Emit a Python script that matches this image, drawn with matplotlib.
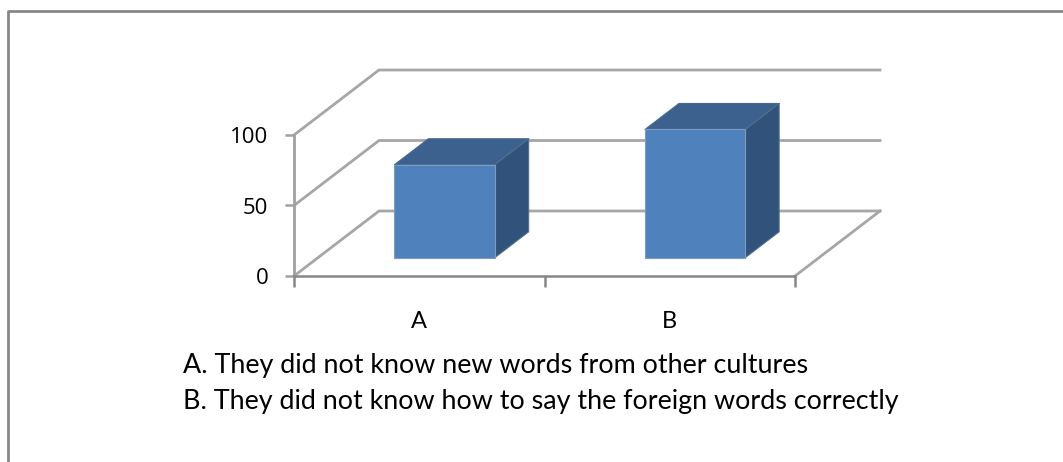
import matplotlib
matplotlib.use("Agg")
import matplotlib.pyplot as plt
from matplotlib.patches import Polygon

categories = ["A", "B"]
values = [66, 91]
y_ticks = [0, 50, 100]
notes = ["A. They did not know new words from other cultures",
         "B. They did not know how to say the foreign words correctly"]

W, H = 1063, 462
plt.rcParams['font.family'] = ['Lato', 'DejaVu Sans']
fig = plt.figure(figsize=(W / 100, H / 100), dpi=100)
fig.patch.set_facecolor('white')

# frame
GREY = '#878787'
LIGHT = '#a0a0a0'
fig.add_artist(plt.Line2D([7.5 / W, 7.5 / W, 1], [0, 1 - 10.5 / H, 1 - 10.5 / H],
                          color=GREY, lw=2.0, transform=fig.transFigure))

# front plane of the 3-D plot
ax = fig.add_axes([294 / W, 1 - 276 / H, (795 - 294) / W, (276 - 135) / H])
ax.set_xlim(0, len(categories))
ax.set_ylim(0, 100)
ax.patch.set_visible(False)
for s in ('top', 'right'):
    ax.spines[s].set_visible(False)
ax.spines['left'].set_color(LIGHT)
ax.spines['left'].set_linewidth(2.0)
ax.spines['bottom'].set_color(GREY)
ax.spines['bottom'].set_linewidth(1.8)
ax.set_xticks(range(len(categories) + 1))
ax.set_xticklabels([])
ax.set_yticks(y_ticks)
ax.set_yticklabels([str(v) for v in y_ticks], fontsize=16, color='black', family='Open Sans')
ax.tick_params(axis='y', direction='out', length=6.5, width=1.8, color=LIGHT, pad=12)
ax.tick_params(axis='x', direction='out', length=8, width=1.8, color=GREY)

# oblique depth in data units per unit of depth
DX = 85 / ((795 - 294) / len(categories))
DY = 65 / ((276 - 135) / 100)

def proj(x, y, d):
    return (x + DX * d, y + DY * d)

# walls
wall = dict(color='#a6a6a6', lw=2.0, clip_on=False, zorder=1)
for v in y_ticks:
    x0, y0 = proj(0, v, 1)
    x1, y1 = proj(len(categories), v, 1)
    ax.plot([0, x0, x1], [v, y0, y1], **wall)
x0, y0 = proj(len(categories), 0, 1)
ax.plot([len(categories), x0], [0, y0], **wall)

# bars
bw = 0.4
d0, d1 = 0.28, 0.68
for i, (c, v) in enumerate(zip(categories, values)):
    l = i + 0.5 - bw / 2 + DX * d0 + 0.006
    r = l + bw
    base = DY * d0
    top = base + v
    ddx, ddy = DX * (d1 - d0), DY * (d1 - d0)
    kw = dict(clip_on=False, zorder=3, lw=0.8, joinstyle='round')
    ax.add_patch(Polygon([(l, top), (r, top), (r + ddx, top + ddy), (l + ddx, top + ddy)],
                         fc='#3c618f', ec='#46698f', **kw))
    ax.add_patch(Polygon([(r, base), (r + ddx, base + ddy), (r + ddx, top + ddy), (r, top)],
                         fc='#31537b', ec='#52708f', **kw))
    ax.add_patch(Polygon([(l, base), (r, base), (r, top), (l, top)],
                         fc='#4f81bd', ec='#7f9cc0', **kw))
    ax.annotate(c, xy=(i + 0.5, 0), xycoords=('data', 'axes fraction'),
                xytext=(0, -52), textcoords='offset pixels', ha='center', va='baseline',
                fontsize=17, color='black')

# notes below the chart
for n, yy in zip(notes, (373, 409)):
    fig.text(183 / W, 1 - yy / H, n, fontsize=19.4, color='black', va='baseline', ha='left')

fig.savefig('out.png', dpi=100)
